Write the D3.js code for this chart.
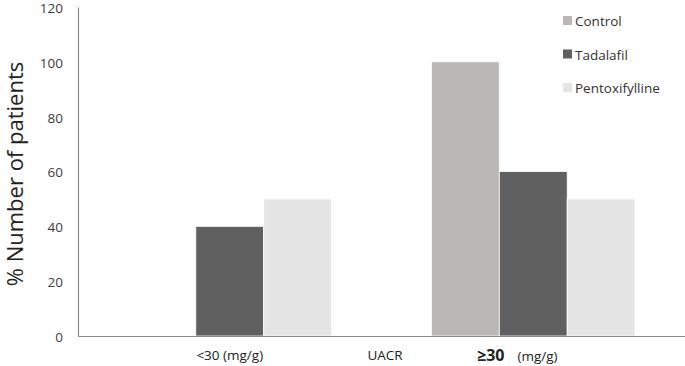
<!DOCTYPE html>
<html>
<head>
<script src="https://d3js.org/d3.v7.min.js"></script>
<style>
  body { margin: 0; background: #fff; }
  text { font-family: "Open Sans", Arial, sans-serif; }
</style>
</head>
<body>
<svg id="chart" width="685" height="366"></svg>
<script>
// data
const groups = ["lt30", "ge30"];
const series = ["Control", "Tadalafil", "Pentoxifylline"];
const controlVals = [0, 100];
const tadalafilVals = [40, 60];
const pentoxVals = [50, 50];
const yTicks = [0, 20, 40, 60, 80, 100, 120];
const colors = ["#bbb7b5", "#606060", "#e5e5e5"];

const values = [controlVals, tadalafilVals, pentoxVals];
const rows = [];
groups.forEach((g, gi) => {
  series.forEach((s, si) => rows.push({ group: g, series: s, value: values[si][gi] }));
});

const svg = d3.select("#chart");
const mLeft = 78, mRight = 685, mTop = 7, mBottom = 336;

const x0 = d3.scaleBand().domain(groups).range([mLeft, mRight]).padding(0);
const x1 = d3.scaleBand().domain(series).range([0, x0.bandwidth()])
  .paddingInner(0).paddingOuter(0.735);
const y = d3.scaleLinear().domain([0, 120]).range([mBottom, mTop]);

// bars
svg.append("g").selectAll("rect")
  .data(rows.filter(d => d.value > 0))
  .enter().append("rect")
  .attr("x", d => x0(d.group) + x1(d.series))
  .attr("y", d => y(d.value))
  .attr("width", x1.bandwidth())
  .attr("height", d => y(0) - y(d.value))
  .attr("fill", d => colors[series.indexOf(d.series)])
  .attr("stroke", "#fff")
  .attr("stroke-width", 0.8);

// y axis
const yAxis = d3.axisLeft(y).tickValues(yTicks).tickSize(0).tickPadding(15);
const ya = svg.append("g").attr("transform", `translate(${mLeft},0)`).call(yAxis);
ya.select(".domain").attr("stroke", "#8c8c8c").attr("stroke-width", 1.2);
ya.selectAll("text").attr("fill", "#404040").attr("dy", "0.4em").style("font-size", "13.5px")
  .style("font-family", "'Open Sans', Arial, sans-serif");

// x axis line
const xAxis = d3.axisBottom(x0).tickSize(0).tickFormat("");
const xa = svg.append("g").attr("transform", `translate(0,${mBottom})`).call(xAxis);
xa.select(".domain").attr("stroke", "#8c8c8c").attr("stroke-width", 1.2);

// x labels
const lab = svg.append("g").attr("fill", "#222");
lab.append("text")
  .attr("x", x0("lt30") + x0.bandwidth() / 2).attr("y", 360)
  .attr("text-anchor", "middle").style("font-size", "13.5px")
  .text("<30 (mg/g)");
lab.append("text")
  .attr("x", 385).attr("y", 360)
  .attr("text-anchor", "middle").style("font-size", "13.5px")
  .text("UACR");
const ge = lab.append("text")
  .attr("x", 477).attr("y", 361);
ge.append("tspan").style("font-size", "16px").style("font-weight", "bold").text("≥30");
ge.append("tspan").attr("dx", 13).style("font-size", "13.5px").text("(mg/g)");

// y label
svg.append("text")
  .attr("transform", "translate(23,174) rotate(-90)")
  .attr("text-anchor", "middle")
  .attr("fill", "#222")
  .style("font-size", "22px")
  .text("% Number of patients");

// legend
const leg = svg.append("g").selectAll("g")
  .data(series).enter().append("g")
  .attr("transform", (d, i) => `translate(563,${21 + i * 33.5})`);
leg.append("rect").attr("x", 0).attr("y", -5).attr("width", 9).attr("height", 9)
  .attr("fill", (d, i) => colors[i]);
leg.append("text").attr("x", 12).attr("y", 5)
  .attr("fill", "#333").style("font-size", "13.5px")
  .text(d => d);
</script>
</body>
</html>
